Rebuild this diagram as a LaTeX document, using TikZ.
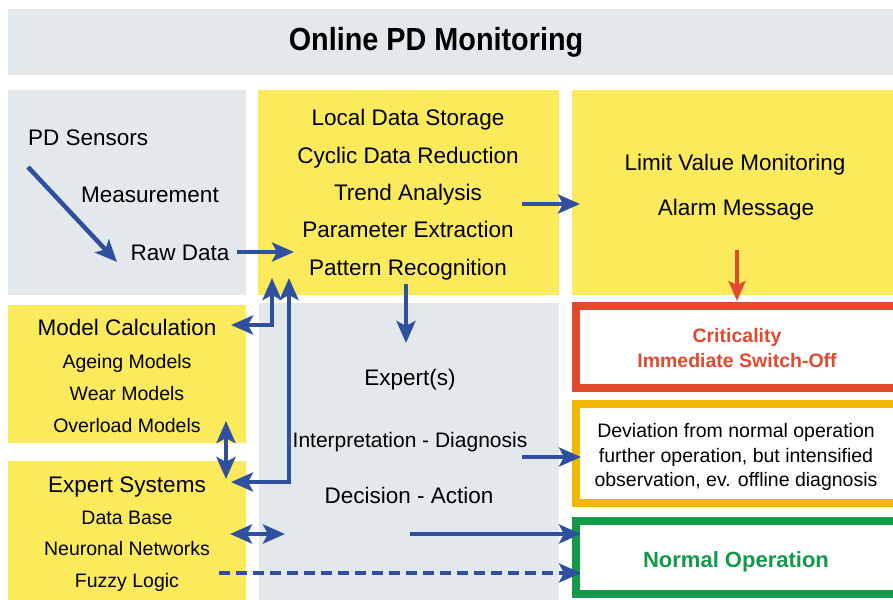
\documentclass[tikz,border=0pt]{standalone}
\usepackage{fontspec}
\setmainfont{Liberation Sans}
\usetikzlibrary{arrows.meta}
\definecolor{bgray}{HTML}{E3E8ED}
\definecolor{byellow}{HTML}{FBEA5C}
\definecolor{ablue}{HTML}{2F4F9F}
\definecolor{cred}{HTML}{E04A2F}
\definecolor{corange}{HTML}{F2B705}
\definecolor{cgreen}{HTML}{129A48}
\tikzset{
  panel/.style={inner sep=0pt, outer sep=0pt},
  txt/.style={inner sep=0pt, anchor=base, font=\fontsize{22.5}{27}\selectfont},
  txs/.style={inner sep=0pt, anchor=base, font=\fontsize{19.5}{24}\selectfont},
  flow/.style={draw=ablue, line width=4.5pt, >={Stealth[length=22pt,width=19pt,inset=5pt]}},
  frame/.style={line width=8pt, fill=white},
}
\begin{document}
\begin{tikzpicture}[x=1pt,y=-1pt]
\useasboundingbox (0,0) rectangle (893,599);
\clip (0,0) rectangle (893,599);
% panels
\fill[bgray] (8,9) rectangle (900,75);
\fill[bgray] (8,90) rectangle (246,295);
\fill[byellow] (258,90) rectangle (559,295);
\fill[byellow] (572,90) rectangle (900,295);
\fill[byellow] (8,305) rectangle (246,443);
\fill[byellow] (8,461) rectangle (246,605);
\fill[bgray] (259,303) rectangle (559,605);
\draw[frame, draw=cred] (576,306) rectangle (905,388);
\draw[frame, draw=corange] (576,404) rectangle (905,503);
\draw[frame, draw=cgreen] (576,521) rectangle (905,594);
% title
\node[inner sep=0pt, anchor=base, font=\bfseries\fontsize{32}{36}\selectfont, xscale=0.9] (title) at (436,51) {Online PD Monitoring};
% top-left
\node[txt, anchor=base west] (sens) at (28,145) {PD Sensors};
\node[txt] (meas) at (150,202) {Measurement};
\node[txt] (raw) at (180,260) {Raw Data};
% center top
\node[txt] (lds) at (408,125) {Local Data Storage};
\node[txt] (cdr) at (408,163) {Cyclic Data Reduction};
\node[txt] (tra) at (408,200) {Trend Analysis};
\node[txt] (pex) at (408,237) {Parameter Extraction};
\node[txt] (pre) at (408,275) {Pattern Recognition};
% right top
\node[txt] (lvm) at (735,170) {Limit Value Monitoring};
\node[txt] (alm) at (736,215) {Alarm Message};
% left middle
\node[txt] (mc) at (127,335) {Model Calculation};
\node[txs] (age) at (127,368) {Ageing Models};
\node[txs] (wear) at (127,400) {Wear Models};
\node[txs] (ovl) at (127,432) {Overload Models};
\node[txt] (es) at (127,492) {Expert Systems};
\node[txs] (db) at (127,524) {Data Base};
\node[txs] (nn) at (127,555) {Neuronal Networks};
\node[txs] (fl) at (127,587) {Fuzzy Logic};
% center lower
\node[txt] (exp) at (410,385) {Expert(s)};
\node[txt, font=\fontsize{21}{25}\selectfont] (int) at (410,447) {Interpretation - Diagnosis};
\node[txt] (dec) at (409,503) {Decision - Action};
% right boxes
\node[txs, font=\bfseries\fontsize{19.5}{24}\selectfont, text=cred] (crit) at (737,342) {Criticality};
\node[txs, font=\bfseries\fontsize{19.5}{24}\selectfont, text=cred] (iso) at (737,367) {Immediate Switch-Off};
\node[txs] (dev1) at (736,437) {Deviation from normal operation};
\node[txs] (dev2) at (736,462) {further operation, but intensified};
\node[txs] (dev3) at (736,486) {observation, ev. offline diagnosis};
\node[txt, font=\bfseries\fontsize{22}{26}\selectfont, text=cgreen] (norm) at (736,567) {Normal Operation};
% connector coordinates
\coordinate (sensA) at (28,167);
\coordinate (sensB) at (117,262);
\coordinate (rawA) at (237,252);
\coordinate (rawB) at (294,252);
\coordinate (traA) at (522,204);
\coordinate (traB) at (580,204);
\coordinate (preA) at (406,284);
\coordinate (preB) at (406,343);
\coordinate (alA) at (737,250);
\coordinate (alB) at (737,301);
\coordinate (mcT) at (231,325);
\coordinate (up1) at (272,278);
\coordinate (esT) at (231,482);
\coordinate (up2) at (289,278);
\coordinate (vdA) at (226,421);
\coordinate (vdB) at (226,479);
\coordinate (hdA) at (230,534);
\coordinate (hdB) at (285,534);
\coordinate (intA) at (522,457);
\coordinate (intB) at (581,457);
\coordinate (decA) at (410,534);
\coordinate (decB) at (581,534);
\coordinate (flA) at (219,573);
\coordinate (flB) at (581,573);
% connectors
\draw[flow, ->] (sensA) -- (sensB);
\draw[flow, ->] (rawA) -- (rawB);
\draw[flow, ->] (traA) -- (traB);
\draw[flow, ->] (preA) -- (preB);
\draw[flow, <->] (mcT) -| (up1);
\draw[flow, <->] (esT) -| (up2);
\draw[flow, <->] (vdA) -- (vdB);
\draw[flow, <->] (hdA) -- (hdB);
\draw[flow, ->] (intA) -- (intB);
\draw[flow, ->] (decA) -- (decB);
\draw[flow, ->, dash pattern=on 11pt off 6pt] (flA) -- (flB);
\draw[draw=cred, line width=3.5pt, -{Stealth[length=20pt,width=17pt,inset=4pt]}] (alA) -- (alB);
\end{tikzpicture}
\end{document}
